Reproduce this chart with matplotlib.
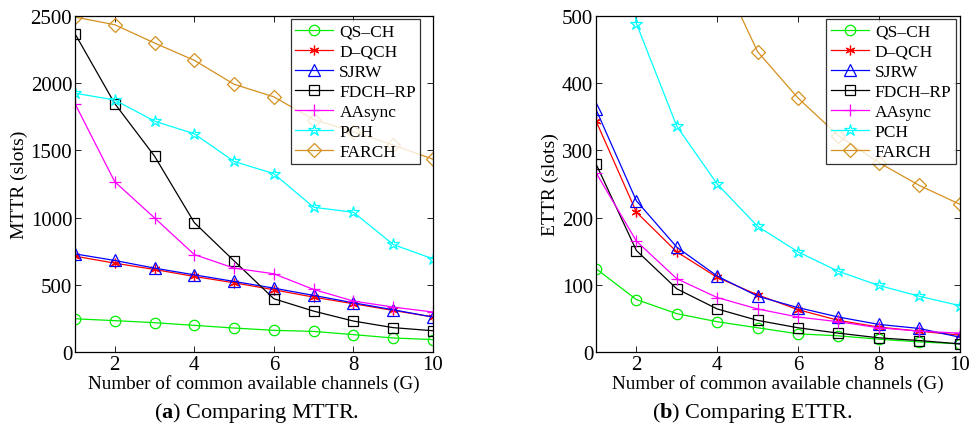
import numpy as np
import matplotlib
matplotlib.use('Agg')
import matplotlib.pyplot as plt

plt.rcParams['font.family'] = ['Liberation Serif', 'DejaVu Serif']
plt.rcParams['mathtext.fontset'] = 'custom'
plt.rcParams['mathtext.rm'] = 'Liberation Serif'
plt.rcParams['mathtext.bf'] = 'Liberation Serif:bold'
plt.rcParams['xtick.direction'] = 'in'
plt.rcParams['ytick.direction'] = 'in'

G = [1, 2, 3, 4, 5, 6, 7, 8, 9, 10]
names = ['QS\u2013CH', 'D\u2013QCH', 'SJRW', 'FDCH\u2013RP', 'AAsync', 'PCH', 'FARCH']

# MTTR (slots)
mttr_qsch = [247, 233, 218, 198, 178, 161, 153, 129, 104, 92]
mttr_dqch = [713, 661, 614, 562, 515, 463, 408, 359, 309, 260]
mttr_sjrw = [730, 681, 624, 574, 525, 475, 421, 366, 314, 260]
mttr_fdch = [2369, 1849, 1458, 963, 678, 396, 304, 230, 181, 158]
mttr_aasync = [1849, 1267, 998, 725, 624, 582, 465, 379, 334, 297]
mttr_pch = [1926, 1876, 1718, 1624, 1418, 1327, 1077, 1040, 800, 693]
mttr_farch = [2493, 2436, 2300, 2171, 1993, 1899, 1730, 1640, 1540, 1435]

# ETTR (slots)
ettr_qsch = [124, 78, 57, 45, 36, 27, 24, 19, 15, 12]
ettr_dqch = [344, 208, 149, 111, 85, 63, 47, 37, 31, 25]
ettr_sjrw = [361, 225, 156, 113, 83, 66, 52, 41, 35, 22]
ettr_fdch = [280, 151, 94, 64, 47, 36, 28, 21, 17, 12]
ettr_aasync = [267, 165, 109, 81, 64, 52, 45, 36, 31, 28]
ettr_pch = [980, 489, 336, 250, 187, 149, 120, 99, 83, 69]
ettr_farch = [2000, 1030, 740, 575, 447, 378, 322, 282, 248, 220]

colors = ['#00EE00', '#FF0000', '#0000FF', '#000000', '#FF00FF', '#00FFFF', '#D4901E']
markers = ['o', (6, 2, 0), '^', 's', '+', '*', 'D']
msizes = [7.5, 7, 8, 6.5, 9, 9, 7]

fig = plt.figure(figsize=(9.71, 4.39), dpi=100)
ax1 = fig.add_axes([0.0772, 0.196, 0.3687, 0.765])
ax2 = fig.add_axes([0.6138, 0.196, 0.3745, 0.765])

def draw(ax, series, ymax, ystep, ylabel, legbox):
    for s, c, m, ms, n in zip(series, colors, markers, msizes, names):
        ax.plot(G, s, color=c, marker=m, markersize=ms, markerfacecolor='none',
                markeredgecolor=c, markeredgewidth=0.9, linewidth=0.9, label=n)
    ax.set_xlim(1, 10)
    ax.set_ylim(0, ymax)
    ax.set_xticks([2, 4, 6, 8, 10])
    ax.set_yticks(np.arange(0, ymax + 1, ystep))
    ax.tick_params(top=True, right=True, labelsize=15, length=4, width=0.6, pad=2)
    for sp in ax.spines.values():
        sp.set_linewidth(0.9)
    ax.set_xlabel('Number of common available channels (G)', fontsize=13.8, labelpad=0)
    ax.set_ylabel(ylabel, fontsize=14, labelpad=2)
    leg = ax.legend(loc='upper right', bbox_to_anchor=legbox, fontsize=12.5,
                    frameon=True, fancybox=False, edgecolor='black',
                    borderpad=0.25, labelspacing=0.22, handlelength=2.2,
                    handletextpad=0.35, borderaxespad=0.0)
    leg.get_frame().set_linewidth(0.9)

draw(ax1, [mttr_qsch, mttr_dqch, mttr_sjrw, mttr_fdch, mttr_aasync, mttr_pch, mttr_farch],
     2500, 500, 'MTTR (slots)', (0.965, 0.99))
draw(ax2, [ettr_qsch, ettr_dqch, ettr_sjrw, ettr_fdch, ettr_aasync, ettr_pch, ettr_farch],
     500, 100, 'ETTR (slots)', (0.99, 0.99))

fig.text(0.264, 0.06, r'($\mathbf{a}$) Comparing MTTR.', ha='center', va='center', fontsize=16)
fig.text(0.775, 0.06, r'($\mathbf{b}$) Comparing ETTR.', ha='center', va='center', fontsize=16)

fig.savefig('out.png', dpi=100)
